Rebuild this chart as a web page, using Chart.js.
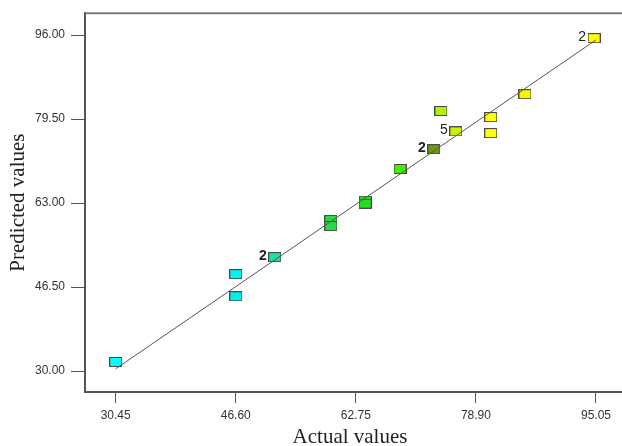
<!DOCTYPE html>
<html>
<head>
<meta charset="utf-8">
<script src="https://cdn.jsdelivr.net/npm/chart.js@4.4.1/dist/chart.umd.min.js"></script>
<style>
  body { margin: 0; background: #fff; }
  canvas { display: block; }
</style>
</head>
<body>
<canvas id="pred" width="622" height="446"></canvas>
<script>
// Actual vs predicted values
const actual    = [30.45, 46.6, 46.6, 51.85, 59.4, 59.4, 64.0, 64.0, 68.7, 73.25, 74.2, 76.2, 80.9, 80.9, 85.5, 94.8];
const predicted = [31.8, 49.05, 44.7, 52.4, 59.7, 58.5, 63.5, 62.9, 69.7, 73.6, 81.1, 77.1, 79.9, 76.75, 84.4, 95.4];
const pointColors = ['#00ffff', '#00f4f4', '#00f0f0', '#20e09a', '#20e040', '#20e040', '#20e020', '#20e020',
                     '#44f000', '#6c9a10', '#b4f000', '#ccf000', '#ffff00', '#ffff00', '#f4f400', '#ffff00'];
const pointLabels = ['', '', '', '2', '', '', '', '', '', '2', '', '5', '', '', '', '2'];
const labelBold   = [false, false, false, true, false, false, false, false, false, true, false, false, false, false, false, false];
const yTicks = [30.00, 46.50, 63.00, 79.50, 96.00];
const xTicks = [30.45, 46.60, 62.75, 78.90, 95.05];
const fitLine = [30.45, 95.05];

// small rectangle marker for each colour
function makeBox(color) {
    const c = document.createElement('canvas');
    c.width = 13;
    c.height = 10;
    const g = c.getContext('2d');
    g.fillStyle = color;
    g.fillRect(0, 0, 13, 10);
    g.strokeStyle = '#4a4a4a';
    g.lineWidth = 1;
    g.strokeRect(0.5, 0.5, 12, 9);
    return c;
}

// replicate counts next to the markers + frame lines running to the edge
const extras = {
    id: 'extras',
    afterDatasetsDraw(chart) {
        const ctx = chart.ctx;
        const meta = chart.getDatasetMeta(1);
        ctx.save();
        ctx.fillStyle = '#222';
        ctx.textAlign = 'right';
        ctx.textBaseline = 'middle';
        meta.data.forEach((pt, i) => {
            if (!pointLabels[i]) return;
            ctx.font = (labelBold[i] ? 'bold ' : '') + '14px "Liberation Sans", Arial';
            ctx.fillText(pointLabels[i], pt.x - 8, pt.y - 1);
        });
        const a = chart.chartArea;
        const yb = Math.round(a.bottom);
        ctx.lineWidth = 2;
        ctx.strokeStyle = '#7a7a7a';
        ctx.beginPath();
        ctx.moveTo(a.left, a.top);
        ctx.lineTo(chart.width, a.top);
        ctx.stroke();
        ctx.strokeStyle = '#555';
        ctx.beginPath();
        ctx.moveTo(a.right - 2, yb);
        ctx.lineTo(chart.width, yb);
        ctx.stroke();
        ctx.restore();
    }
};

const ctx = document.getElementById('pred').getContext('2d');
const chart = new Chart(ctx, {
    type: 'scatter',
    data: {
        datasets: [
            {
                type: 'line',
                data: fitLine.map(v => ({ x: v, y: v })),
                borderColor: '#555',
                borderWidth: 1,
                pointRadius: 0,
                fill: false
            },
            {
                data: actual.map((a, i) => ({ x: a, y: predicted[i] })),
                pointStyle: pointColors.map(makeBox),
                pointRadius: 6
            }
        ]
    },
    plugins: [extras],
    options: {
        responsive: false,
        animation: false,
        layout: { padding: { top: 11, right: 0, left: 0, bottom: 0 } },
        plugins: {
            legend: { display: false },
            tooltip: { enabled: false }
        },
        scales: {
            x: {
                type: 'linear',
                min: 26.32,
                max: 97.61,
                afterBuildTicks: s => { s.ticks = xTicks.map(v => ({ value: v })); },
                afterFit: s => { s.height = 54; },
                grid: { display: true, drawOnChartArea: false, drawTicks: true, tickLength: 11, color: '#555' },
                border: { display: true, color: '#555', width: 2 },
                ticks: {
                    color: '#333',
                    padding: 5,
                    font: { family: '"Liberation Sans", Arial', size: 12 },
                    callback: v => Number(v).toFixed(2)
                },
                title: {
                    display: true,
                    text: 'Actual values',
                    color: '#222',
                    padding: { top: 0, bottom: -4 },
                    font: { family: '"Liberation Serif", "Times New Roman"', size: 21 }
                }
            },
            y: {
                min: 25.9,
                max: 100.3,
                afterBuildTicks: s => { s.ticks = yTicks.map(v => ({ value: v })); },
                afterFit: s => { s.width = 85; },
                grid: { display: true, drawOnChartArea: false, drawTicks: true, tickLength: 14, color: '#555' },
                border: { display: true, color: '#555', width: 2 },
                ticks: {
                    color: '#333',
                    padding: 6,
                    font: { family: '"Liberation Sans", Arial', size: 12 },
                    callback: v => Number(v).toFixed(2)
                },
                title: {
                    display: true,
                    text: 'Predicted values',
                    color: '#222',
                    padding: { top: 6, bottom: 0 },
                    font: { family: '"Liberation Serif", "Times New Roman"', size: 21 }
                }
            }
        }
    }
});
</script>
</body>
</html>
